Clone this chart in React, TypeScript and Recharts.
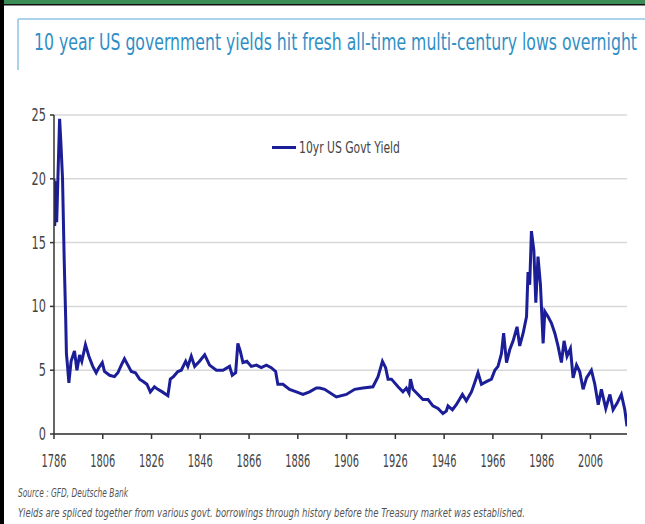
import React from "react";
import { LineChart, Line, XAxis, YAxis, CartesianGrid } from "recharts";

const years = [
  1786.0, 1786.3, 1786.7, 1787.1, 1787.6, 1788.3, 1788.8, 1789.5, 1790.2, 1790.8,
  1791.1, 1791.6, 1792.1, 1793.0, 1794.4, 1795.4, 1796.5, 1797.4, 1798.9, 1800.3,
  1801.9, 1803.3, 1804.4, 1805.8, 1806.7, 1808.8, 1810.8, 1812.2, 1813.6, 1814.9,
  1816.3, 1817.7, 1819.4, 1821.1, 1822.7, 1824.1, 1825.5, 1827.2, 1828.6, 1830.4,
  1832.7, 1833.7, 1835.0, 1836.8, 1838.2, 1840.0, 1840.9, 1842.3, 1843.7, 1845.7,
  1847.8, 1849.8, 1852.6, 1855.3, 1858.0, 1859.1, 1860.5, 1861.4, 1862.4, 1863.5,
  1865.1, 1866.9, 1869.0, 1871.0, 1873.1, 1875.1, 1876.9, 1877.8, 1879.9, 1882.6,
  1885.4, 1888.1, 1890.8, 1893.6, 1895.0, 1897.0, 1901.8, 1905.9, 1909.3, 1912.7,
  1916.8, 1918.9, 1920.7, 1922.0, 1923.0, 1924.4, 1927.1, 1929.1, 1930.5, 1931.6,
  1932.2, 1933.2, 1935.3, 1937.3, 1939.4, 1941.4, 1943.5, 1945.5, 1946.9, 1947.6,
  1949.4, 1951.0, 1953.5, 1955.1, 1957.2, 1958.5, 1959.9, 1961.3, 1963.3, 1965.4,
  1966.8, 1968.1, 1969.5, 1970.4, 1971.6, 1972.9, 1974.3, 1975.9, 1977.0, 1978.4,
  1979.8, 1980.4, 1981.1, 1981.8, 1982.8, 1983.6, 1984.5, 1985.5, 1986.6, 1987.3,
  1988.6, 1990.0, 1991.4, 1992.7, 1994.1, 1995.2, 1996.4, 1997.8, 1998.9, 2000.3,
  2001.6, 2003.0, 2004.4, 2006.4, 2007.8, 2009.2, 2010.5, 2012.3, 2014.0, 2015.3,
  2016.9, 2018.7, 2020.1, 2021.0,
];

const yields = [
  20.0, 16.3, 19.8, 16.6, 20.0, 24.7, 22.9, 20.0, 13.5, 9.0,
  6.3, 5.2, 4.0, 5.7, 6.5, 5.0, 6.2, 5.7, 7.0, 6.1,
  5.3, 4.8, 5.2, 5.6, 4.9, 4.6, 4.5, 4.8, 5.4, 5.9,
  5.4, 4.9, 4.8, 4.3, 4.1, 3.9, 3.3, 3.7, 3.5, 3.3,
  3.0, 4.3, 4.5, 4.9, 5.0, 5.7, 5.3, 6.1, 5.3, 5.7,
  6.2, 5.4, 5.0, 5.0, 5.3, 4.6, 4.8, 7.1, 6.5, 5.6,
  5.7, 5.3, 5.4, 5.2, 5.4, 5.2, 4.9, 3.9, 3.9, 3.5,
  3.3, 3.1, 3.3, 3.6, 3.6, 3.5, 2.9, 3.1, 3.5, 3.6,
  3.7, 4.5, 5.7, 5.2, 4.3, 4.3, 3.7, 3.3, 3.6, 3.2,
  4.3, 3.5, 3.1, 2.7, 2.7, 2.2, 2.0, 1.6, 1.8, 2.2,
  1.9, 2.3, 3.1, 2.6, 3.3, 4.0, 4.8, 3.9, 4.1, 4.3,
  5.0, 5.3, 6.3, 7.9, 5.6, 6.6, 7.3, 8.4, 6.9, 7.9,
  9.2, 12.7, 11.7, 15.9, 14.4, 10.3, 13.9, 11.7, 7.1, 9.6,
  9.2, 8.7, 7.9, 6.9, 5.6, 7.3, 6.1, 6.7, 4.4, 5.4,
  4.9, 3.5, 4.4, 5.0, 3.9, 2.3, 3.5, 2.0, 3.1, 1.9,
  2.4, 3.1, 1.9, 0.6,
];

const xTicks = [1786, 1806, 1826, 1846, 1866, 1886, 1906, 1926, 1946, 1966, 1986, 2006];
const yTicks = [0, 5, 10, 15, 20, 25];

const seriesName = "10yr US Govt Yield";
const title = "10 year US government yields hit fresh all-time multi-century lows overnight";
const sourceNote = "Source : GFD, Deutsche Bank";
const spliceNote =
  "Yields are spliced together from various govt. borrowings through history before the Treasury market was established.";

const data = years.map((year, i) => ({ year, yield: yields[i] }));

const narrow = '"Liberation Sans Narrow", "Arial Narrow", "DejaVu Sans Condensed", sans-serif';
const lineColor = "#1b1e96";

// the original uses a tall, narrow face; squeeze the text to that width
const XTick = ({ x, y, payload }: any) => (
  <text x={x} y={y + 24} fontSize={17} fill="#444" textAnchor="middle" textLength={25} lengthAdjust="spacingAndGlyphs">
    {payload.value}
  </text>
);

const YTick = ({ x, y, payload }: any) => {
  const s = String(payload.value);
  return (
    <text x={x} y={y + 6} fontSize={17} fill="#444" textAnchor="end" textLength={s.length * 7.2} lengthAdjust="spacingAndGlyphs">
      {s}
    </text>
  );
};

export default function App() {
  return (
    <div
      style={{
        position: "fixed",
        left: 0,
        top: 0,
        width: 645,
        height: 524,
        background: "#fff",
        fontFamily: narrow,
        overflow: "hidden",
      }}
    >
      <svg width={645} height={524} style={{ position: "absolute", left: 0, top: 0 }}>
        {/* frame bits from the screenshot */}
        <rect x={0} y={0} width={645} height={4} fill="#3b8c57" />
        <rect x={0} y={4} width={645} height={1.5} fill="#111" />
        <rect x={0} y={0} width={4} height={524} fill="#000" />
        <line x1={18} y1={19} x2={645} y2={19} stroke="#8fc6e4" strokeWidth={1.5} />
        <line x1={18} y1={19} x2={18} y2={70} stroke="#8fc6e4" strokeWidth={1.5} />
        <text
          transform="translate(34,50) scale(1,1.5)"
          fontSize={15.5}
          fill="#2f8fc6"
          textLength={603}
          lengthAdjust="spacingAndGlyphs"
        >
          {title}
        </text>

        <text transform="translate(18,497) scale(1,1.2)" fontSize={10.5} fontStyle="italic" fill="#555" textLength={110} lengthAdjust="spacingAndGlyphs">
          {sourceNote}
        </text>
        <text transform="translate(18,517) scale(1,1.2)" fontSize={10} fontStyle="italic" fill="#555" textLength={507} lengthAdjust="spacingAndGlyphs">
          {spliceNote}
        </text>
      </svg>

      <div style={{ position: "absolute", left: 0, top: 0 }}>
        <LineChart
          width={645}
          height={524}
          data={data}
          margin={{ top: 115, right: 18, left: 0, bottom: 60 }}
        >
          <CartesianGrid vertical={false} stroke="#d8d8d8" strokeWidth={1.5} />
          <XAxis
            dataKey="year"
            type="number"
            domain={[1786, 2021]}
            ticks={xTicks}
            allowDataOverflow
            height={30}
            stroke="#333"
            strokeWidth={1.5}
            tickSize={5}
            tickMargin={4}
            tick={<XTick />}
          />
          <YAxis
            domain={[0, 25]}
            ticks={yTicks}
            width={54}
            stroke="#333"
            strokeWidth={1.5}
            tickSize={4}
            tickMargin={4}
            tick={<YTick />}
          />
          <Line
            type="linear"
            dataKey="yield"
            name={seriesName}
            stroke={lineColor}
            strokeWidth={3}
            dot={false}
            isAnimationActive={false}
          />
        </LineChart>
      </div>

      <svg width={645} height={524} style={{ position: "absolute", left: 0, top: 0, pointerEvents: "none" }}>
        <line x1={272} y1={147.5} x2={296} y2={147.5} stroke={lineColor} strokeWidth={3} />
        <text x={299} y={153} fontSize={15} fill="#444" textLength={101} lengthAdjust="spacingAndGlyphs">
          {seriesName}
        </text>
      </svg>
    </div>
  );
}
